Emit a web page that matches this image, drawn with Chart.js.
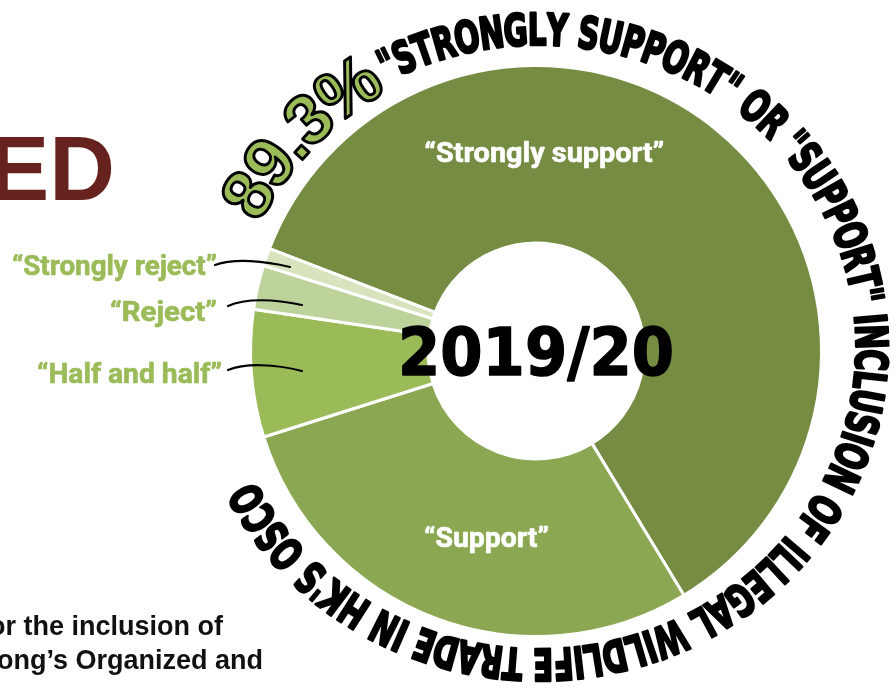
<!DOCTYPE html>
<html>
<head>
<meta charset="utf-8">
<script src="https://cdn.jsdelivr.net/npm/chart.js@4.4.1/dist/chart.umd.min.js"></script>
<style>
  html, body { margin: 0; padding: 0; background: #ffffff; overflow: hidden; }
  canvas { display: block; }
</style>
</head>
<body>
<canvas id="c" width="896" height="689"></canvas>
<script>
// Survey answers, share of respondents (%)
const categories = ['“Strongly support”', '“Support”', '“Half and half”', '“Reject”', '“Strongly reject”'];
const shares = [60.5, 28.8, 7.2, 2.5, 1.0];
const periodLabel = '2019/20';
const arcCaption = '"STRONGLY SUPPORT" OR "SUPPORT" INCLUSION OF ILLEGAL WILDLIFE TRADE IN HK\'S OSCO';
const titleFragment = 'ED';
const bodyLines = ['or the inclusion of', 'ong’s Organized and'];

// combined support figure shown on the ring caption
const supportTotal = (shares[0] + shares[1]).toFixed(1) + '%';

const sliceColors = ['#768c43', '#8ba751', '#9bbb59', '#bdd39b', '#d7e4bd'];
const labelGreen = '#9bbb59';
const deg = Math.PI / 180;

// squeeze/stretch a text run horizontally to a given width
function fitText(ctx, text, x, y, width, align, strokeW) {
  const w = ctx.measureText(text).width;
  ctx.save();
  ctx.translate(x, y);
  ctx.scale(width / w, 1);
  ctx.textAlign = align;
  ctx.fillText(text, 0, 0);
  if (strokeW) {
    ctx.lineJoin = 'round';
    ctx.lineWidth = strokeW;
    ctx.strokeStyle = ctx.fillStyle;
    ctx.strokeText(text, 0, 0);
  }
  ctx.restore();
}

// caption path: an ellipse slightly offset from the ring centre
function makePath(cx, cy) {
  const p = { ex: cx + 3, ey: cy - 4, rx: 333, ry: 318 };
  p.speed = t => Math.hypot(p.rx * Math.cos(t), p.ry * Math.sin(t));
  p.advance = (t, s) => {
    while (s > 1e-6) {
      const v = p.speed(t);
      const dt = Math.min(s / v, 0.002);
      t += dt; s -= v * dt;
    }
    return t;
  };
  p.length = (t0, t1) => {
    const n = 3000, dt = (t1 - t0) / n;
    let s = 0;
    for (let i = 0; i < n; i++) s += p.speed(t0 + (i + 0.5) * dt) * dt;
    return s;
  };
  return p;
}

function drawOnPath(ctx, p, text, t0, sx, capH, fill, stroke, lw) {
  let t = t0;
  for (const ch of text) {
    const w = ctx.measureText(ch).width * sx;
    const tc = p.advance(t, w / 2);
    const x = p.ex + p.rx * Math.sin(tc);
    const y = p.ey - p.ry * Math.cos(tc);
    const ang = Math.atan2(p.ry * Math.sin(tc), p.rx * Math.cos(tc));
    ctx.save();
    ctx.translate(x, y);
    ctx.rotate(ang);
    ctx.scale(sx, 1);
    ctx.textAlign = 'center';
    ctx.textBaseline = 'alphabetic';
    ctx.fillStyle = fill;
    ctx.fillText(ch, 0, capH / 2);
    if (stroke) {
      ctx.lineJoin = 'round';
      ctx.lineWidth = lw;
      ctx.strokeStyle = stroke;
      ctx.strokeText(ch, 0, capH / 2);
    }
    ctx.restore();
    t = p.advance(t, w);
  }
}

const overlay = {
  id: 'overlay',
  afterDraw(chart) {
    const ctx = chart.ctx;
    const arc0 = chart.getDatasetMeta(0).data[0];
    const cx = arc0.x, cy = arc0.y;
    ctx.save();
    ctx.textBaseline = 'alphabetic';

    // cut-off heading on the left
    ctx.fillStyle = '#66221f';
    ctx.font = 'bold 91px "Liberation Sans", Arial, sans-serif';
    ctx.textAlign = 'right';
    ctx.fillText(titleFragment, 115, 200);

    // body text fragment, bottom-left
    ctx.fillStyle = '#111111';
    ctx.font = 'bold 27px "Liberation Sans", Arial, sans-serif';
    ctx.fillText(bodyLines[0], 223, 635);
    ctx.fillText(bodyLines[1], 263, 669);

    // labels inside the two large slices
    ctx.fillStyle = '#ffffff';
    ctx.font = 'bold 27px Roboto, "Liberation Sans", sans-serif';
    const inner = [[0, 2.4, 199, 240], [1, 194.9, 192.5, 125]];
    for (const [i, a, r, w] of inner) {
      const x = cx + r * Math.sin(a * deg);
      const y = cy - r * Math.cos(a * deg);
      fitText(ctx, categories[i], x, y + 9.6, w, 'center', 0.6);
    }

    // labels for the small slices with leader lines
    ctx.fillStyle = labelGreen;
    fitText(ctx, categories[4], 217, 275, 205, 'right', 0.6);
    fitText(ctx, categories[3], 217, 321, 107, 'right', 0.6);
    fitText(ctx, categories[2], 222, 383, 185, 'right', 0.6);

    ctx.strokeStyle = '#000000';
    ctx.lineWidth = 2.2;
    ctx.lineCap = 'round';
    const leaders = [
      [215, 265, 235, 258, 265, 261, 290, 267],
      [228, 306, 245, 298, 275, 299, 302, 305],
      [228, 370, 245, 363, 275, 364, 302, 371]
    ];
    for (const l of leaders) {
      ctx.beginPath();
      ctx.moveTo(l[0], l[1]);
      ctx.bezierCurveTo(l[2], l[3], l[4], l[5], l[6], l[7]);
      ctx.stroke();
    }

    // period in the hole
    ctx.fillStyle = '#000000';
    ctx.font = 'bold 66px "DejaVu Sans", sans-serif';
    fitText(ctx, periodLabel, cx, cy + 24, 276, 'center', 1.5);

    // caption running round the ring
    const p = makePath(cx, cy);
    ctx.font = 'bold 70px "Liberation Sans", Arial, sans-serif';
    drawOnPath(ctx, p, supportTotal, 295.3 * deg, 1, 50, labelGreen, '#000000', 3);

    ctx.font = 'bold 44px "DejaVu Sans", sans-serif';
    const t0 = 331.5 * deg, t1 = 603.7 * deg;
    let sum = 0;
    for (const ch of arcCaption) sum += ctx.measureText(ch).width;
    const sx = p.length(t0, t1) / sum;
    drawOnPath(ctx, p, arcCaption, t0, sx, 32, '#000000', '#000000', 2.6);

    ctx.restore();
  }
};

new Chart(document.getElementById('c'), {
  type: 'doughnut',
  data: {
    labels: categories,
    datasets: [{
      data: shares,
      backgroundColor: sliceColors,
      borderColor: '#ffffff',
      borderWidth: 3
    }]
  },
  options: {
    responsive: false,
    animation: false,
    devicePixelRatio: 1,
    rotation: 291,
    cutout: 108,
    layout: { padding: { left: 249, top: 64, right: 73, bottom: 51 } },
    plugins: { legend: { display: false }, tooltip: { enabled: false } },
    events: []
  },
  plugins: [overlay]
});
</script>
</body>
</html>
